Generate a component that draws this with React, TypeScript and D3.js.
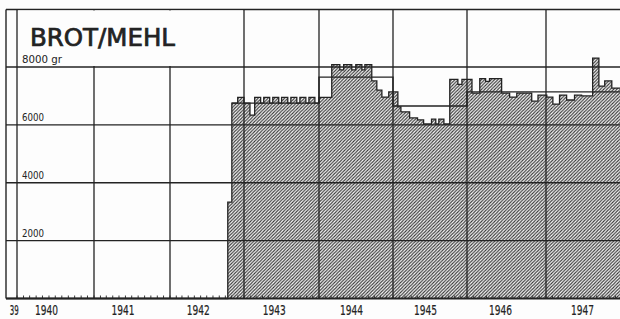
import React from 'react';
import * as d3 from 'd3';

const W = 620;
const H = 319;

// calendar → page calibration (hand-drawn year columns are uneven)
const yearBreaks = ['1939-11-08', '1940-01-01', '1941-01-01', '1942-01-01', '1943-01-01', '1944-01-01', '1945-01-01', '1946-01-01', '1947-01-01', '1948-01-01'];
const yearPixels = [6, 17, 94, 170, 244, 319, 393, 467, 546, 622];

// bread / flour ration per period (grams), step starts
const breadDates = [
  '1939-11-08', '1942-10-13', '1942-11-02', '1942-12-01',
  '1943-01-01', '1943-01-30', '1943-02-22', '1943-03-23', '1943-04-07', '1943-05-06', '1943-05-21', '1943-06-19',
  '1943-07-03', '1943-08-02', '1943-08-17', '1943-09-15', '1943-09-30', '1943-10-29', '1943-11-13', '1943-12-12',
  '1944-01-01', '1944-03-04', '1944-04-13', '1944-05-02', '1944-06-11', '1944-07-01', '1944-07-31', '1944-08-15',
  '1944-09-18', '1944-10-13', '1944-11-07', '1944-12-11',
  '1945-01-25', '1945-02-09', '1945-03-24', '1945-05-02', '1945-06-01', '1945-07-10', '1945-07-31', '1945-08-15',
  '1945-09-09', '1945-10-08', '1945-11-17', '1945-12-07',
  '1946-01-24', '1946-03-01', '1946-03-28', '1946-04-15', '1946-06-10', '1946-07-17', '1946-08-19', '1946-10-27', '1946-11-25',
  '1947-01-05', '1947-02-03', '1947-03-07', '1947-04-10', '1947-05-18', '1947-06-21', '1947-08-13', '1947-09-12',
  '1947-10-10', '1947-11-13', '1948-01-01'
];
const breadGrams = [
  0, 3330, 6750, 6950,
  6750, 6340, 6950, 6750, 6950, 6750, 6950, 6750,
  6950, 6750, 6950, 6750, 6950, 6750, 6950, 6750,
  6950, 8080, 7900, 8080, 7900, 8080, 7900, 8080,
  7520, 7200, 6960, 7140,
  6620, 6450, 6240, 6170, 6030, 6200, 6030, 6200,
  6030, 7570, 7400, 7570,
  7100, 7600, 7500, 7600, 7100, 6960, 7100, 6820, 7030,
  6960, 6720, 7030, 6860, 7030, 7000, 8310, 7340,
  7520, 7270, 7270
];

// outline step (yearly level)
const normDates = ['1942-11-02', '1944-01-01', '1945-01-01', '1946-01-01', '1948-01-01'];
const normGrams = [6750, 7650, 6650, 7140, 7140];

const yTicks = [2000, 4000, 6000, 8000];
const yTickLabels = ['2000', '4000', '6000', '8000 gr'];
const yearLabels = ['39', '1940', '1941', '1942', '1943', '1944', '1945', '1946', '1947'];
const yearLabelDates = ['1939-12-18', '1940-05-20', '1941-05-20', '1942-05-20', '1943-05-28', '1944-06-10', '1945-06-10', '1946-06-05', '1947-06-25'];

const parse = d3.timeParse('%Y-%m-%d');
const ink = '#232323';
const paper = '#fdfdfd';
const condensed = '"DejaVu Sans Condensed", "DejaVu Sans", sans-serif';

const App = () => {
  const x = d3.scaleTime().domain(yearBreaks.map(d => parse(d) as Date)).range(yearPixels);
  const y = d3.scaleLinear().domain([0, 8000]).range([298.5, 67]);
  const top = 9.5;
  const left = x(parse(yearBreaks[0]) as Date);

  const bread: [Date, number][] = breadDates.map((d, i) => [parse(d) as Date, breadGrams[i]]);
  const norm: [Date, number][] = normDates.map((d, i) => [parse(d) as Date, normGrams[i]]);

  const area = d3.area<[Date, number]>()
    .x(d => x(d[0]))
    .y0(y(0))
    .y1(d => y(d[1]))
    .curve(d3.curveStepAfter);
  const line = d3.line<[Date, number]>()
    .x(d => x(d[0]))
    .y(d => y(d[1]))
    .curve(d3.curveStepAfter);

  const months = d3.timeMonth.range(parse('1940-01-01') as Date, parse('1948-01-01') as Date);
  const years = yearBreaks.slice(1, -1).map(d => parse(d) as Date);

  return (
    <svg width={W} height={H} style={{ position: 'absolute', left: 0, top: 0, background: paper }}>
      <defs>
        <pattern id="hatch" patternUnits="userSpaceOnUse" width={3.3} height={3.3}>
          <path d="M-1,1 L1,-1 M0,3.3 L3.3,0 M2.3,4.3 L4.3,2.3" stroke="#333" strokeWidth={1.1} />
        </pattern>
        <clipPath id="plot">
          <rect x={0} y={0} width={W} height={H} />
        </clipPath>
      </defs>

      {/* month ticks along the base */}
      {months.map((m, i) => (
        <line key={'m' + i} x1={x(m)} x2={x(m)} y1={y(0)} y2={y(0) - 3} stroke={ink} strokeWidth={0.9} />
      ))}

      <g clipPath="url(#plot)">
        <path d={area(bread) || ''} fill="url(#hatch)" />
        <path d={line(bread) || ''} fill="none" stroke={ink} strokeWidth={1.3} />
      </g>

      {/* grid */}
      {yTicks.map(t => (
        <line key={'h' + t} x1={left} x2={W} y1={y(t)} y2={y(t)} stroke={ink} strokeWidth={1.3} />
      ))}
      {years.map((d, i) => (
        <line key={'v' + i} x1={x(d)} x2={x(d)} y1={top} y2={y(0)} stroke={ink} strokeWidth={1.3} />
      ))}
      <line x1={left} x2={left} y1={top} y2={y(0)} stroke={ink} strokeWidth={1.4} />
      <line x1={left} x2={W} y1={top} y2={top} stroke={ink} strokeWidth={1.4} />
      <line x1={left} x2={W} y1={y(0)} y2={y(0)} stroke={ink} strokeWidth={1.8} />

      <path d={line(norm) || ''} fill="none" stroke={ink} strokeWidth={1.4} clipPath="url(#plot)" />

      {/* title panel */}
      <rect x={x(years[0]) + 1} y={top + 1} width={x(years[3]) - x(years[0]) - 2} height={y(8000) - top - 2} fill={paper} />
      <text x={30} y={46} fontFamily={condensed} fontWeight={400} fontSize={25} fill={ink}
        stroke={ink} strokeWidth={0.7}
        textLength={145} lengthAdjust="spacingAndGlyphs">BROT/MEHL</text>

      {yTicks.map((t, i) => (
        <text key={'yl' + t} x={22} y={y(t) - 4} fontFamily={condensed} fontSize={11} fill={ink}
          textLength={i === 3 ? 40 : 22} lengthAdjust="spacingAndGlyphs">{yTickLabels[i]}</text>
      ))}

      {yearLabels.map((l, i) => (
        <text key={'yr' + l} x={x(parse(yearLabelDates[i]) as Date)} y={315} textAnchor="middle"
          fontFamily={condensed} fontSize={13.5} fill={ink} stroke={ink} strokeWidth={0.2}
          textLength={l.length === 2 ? 9 : 23} lengthAdjust="spacingAndGlyphs">{l}</text>
      ))}
    </svg>
  );
};

export default App;
